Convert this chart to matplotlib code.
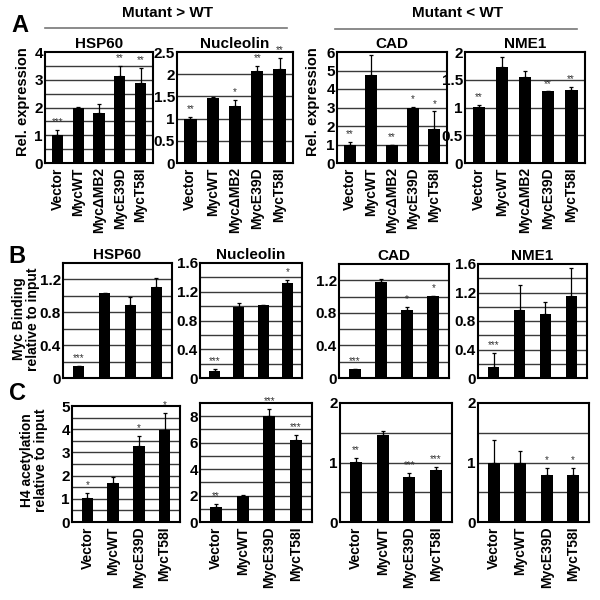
import matplotlib
matplotlib.use('Agg')
import matplotlib.pyplot as plt
import numpy as np

plt.rcParams['font.family'] = ['Liberation Sans', 'DejaVu Sans']
plt.rcParams['font.weight'] = 'bold'

# ---- data ----
cats_a = ['Vector', 'MycWT', 'MycΔMB2', 'MycE39D', 'MycT58I']
cats_bc = ['Vector', 'MycWT', 'MycE39D', 'MycT58I']

# A: relative expression
a_hsp60 = [1.02, 1.97, 1.8, 3.13, 2.87]
a_hsp60_err = [0.17, 0.06, 0.33, 0.36, 0.57]
a_hsp60_sig = ['***', '', '', '**', '**']
a_nucl = [1.0, 1.46, 1.29, 2.07, 2.11]
a_nucl_err = [0.04, 0.03, 0.14, 0.12, 0.26]
a_nucl_sig = ['**', '', '*', '**', '**']
a_cad = [0.98, 4.75, 0.96, 3.0, 1.84]
a_cad_err = [0.14, 1.1, 0.0, 0.05, 0.95]
a_cad_sig = ['**', '', '**', '*', '*']
a_nme1 = [1.01, 1.73, 1.55, 1.29, 1.32]
a_nme1_err = [0.04, 0.18, 0.11, 0.0, 0.05]
a_nme1_sig = ['**', '', '', '**', '**']

# B: Myc binding relative to input
b_hsp60 = [0.15, 1.03, 0.89, 1.11]
b_hsp60_err = [0.0, 0.01, 0.10, 0.11]
b_hsp60_sig = ['***', '', '', '']
b_nucl = [0.1, 0.99, 1.01, 1.32]
b_nucl_err = [0.03, 0.06, 0.01, 0.04]
b_nucl_sig = ['***', '', '', '*']
b_cad = [0.11, 1.18, 0.83, 1.01]
b_cad_err = [0.0, 0.03, 0.04, 0.0]
b_cad_sig = ['***', '', '*', '*']
b_nme1 = [0.155, 0.95, 0.9, 1.15]
b_nme1_err = [0.19, 0.36, 0.16, 0.39]
b_nme1_sig = ['***', '', '', '']

# C: H4 acetylation relative to input
c_hsp60 = [1.03, 1.68, 3.28, 3.97]
c_hsp60_err = [0.24, 0.28, 0.43, 0.71]
c_hsp60_sig = ['*', '', '*', '*']
c_nucl = [1.15, 1.97, 8.0, 6.2]
c_nucl_err = [0.18, 0.08, 0.54, 0.39]
c_nucl_sig = ['**', '', '***', '***']
c_cad = [1.01, 1.46, 0.75, 0.88]
c_cad_err = [0.07, 0.07, 0.08, 0.05]
c_cad_sig = ['**', '', '***', '***']
c_nme1 = [1.0, 1.0, 0.79, 0.79]
c_nme1_err = [0.37, 0.2, 0.11, 0.11]
c_nme1_sig = ['', '', '*', '*']

W = H = 600.0
fig = plt.figure(figsize=(6, 6), dpi=100)


def px_axes(x0, y0, x1, y1):
    # pixel box (top-left origin) -> figure axes
    return fig.add_axes([x0 / W, 1 - y1 / H, (x1 - x0) / W, (y1 - y0) / H])


def ftext(x, y, s, **kw):
    fig.text(x / W, 1 - y / H, s, **kw)


def bar_panel(box, vals, errs, sig, ymax, ticks, ticklabels, grid_step,
              cats=None, title=None, width=0.55):
    ax = px_axes(*box)
    x = np.arange(len(vals))
    for g in np.arange(grid_step, ymax, grid_step):
        ax.axhline(g, color='#3a3a3a', lw=1.0, zorder=0)
    ax.bar(x, vals, width=width, color='black', zorder=2)
    ax.errorbar(x, vals, yerr=[np.zeros(len(vals)), errs], fmt='none',
                ecolor='black', elinewidth=0.9, capsize=1.5, capthick=0.9, zorder=3)
    for xi, v, e, s in zip(x, vals, errs, sig):
        if s:
            ax.text(xi, v + e + 0.025 * ymax, s, ha='center', va='bottom',
                    fontsize=7, color='#333333', fontweight='normal')
    ax.set_xlim(-0.6, len(vals) - 0.4)
    ax.set_ylim(0, ymax)
    ax.set_yticks(ticks)
    ax.set_yticklabels(ticklabels, fontsize=11, fontweight='bold')
    ax.tick_params(axis='y', length=0, pad=1.5)
    ax.tick_params(axis='x', length=0, pad=3)
    if cats is not None:
        ax.set_xticks(x)
        ax.set_xticklabels(cats, rotation=90, fontsize=10, fontweight='bold')
    else:
        ax.set_xticks([])
    for sp in ax.spines.values():
        sp.set_linewidth(1.5)
    if title:
        ax.set_title(title, fontsize=11, fontweight='bold', pad=3)
    return ax


# ---- panel A ----
bar_panel((45, 52, 153, 163), a_hsp60, a_hsp60_err, a_hsp60_sig, 4,
          [0, 1, 2, 3, 4], ['0', '1', '2', '3', '4'], 0.5, cats_a, 'HSP60')
bar_panel((177, 52, 293, 163), a_nucl, a_nucl_err, a_nucl_sig, 2.5,
          [0, 0.5, 1, 1.5, 2, 2.5], ['0', '0.5', '1', '1.5', '2', '2.5'], 0.5,
          cats_a, 'Nucleolin')
bar_panel((337, 52, 447, 163), a_cad, a_cad_err, a_cad_sig, 6,
          [0, 1, 2, 3, 4, 5, 6], ['0', '1', '2', '3', '4', '5', '6'], 1,
          cats_a, 'CAD')
bar_panel((465, 52, 585, 163), a_nme1, a_nme1_err, a_nme1_sig, 2,
          [0, 0.5, 1, 1.5, 2], ['0', '0.5', '1', '1.5', '2'], 0.5, cats_a, 'NME1')

# ---- panel B ----
bar_panel((63, 263, 172, 378), b_hsp60, b_hsp60_err, b_hsp60_sig, 1.4,
          [0, 0.4, 0.8, 1.2], ['0', '0.4', '0.8', '1.2'], 0.2, None, 'HSP60', 0.45)
bar_panel((200, 263, 302, 378), b_nucl, b_nucl_err, b_nucl_sig, 1.6,
          [0, 0.4, 0.8, 1.2, 1.6], ['0', '0.4', '0.8', '1.2', '1.6'], 0.2,
          None, 'Nucleolin', 0.45)
bar_panel((339, 264, 449, 378), b_cad, b_cad_err, b_cad_sig, 1.4,
          [0, 0.4, 0.8, 1.2], ['0', '0.4', '0.8', '1.2'], 0.2, None, 'CAD', 0.45)
bar_panel((478, 264, 587, 378), b_nme1, b_nme1_err, b_nme1_sig, 1.6,
          [0, 0.4, 0.8, 1.2, 1.6], ['0', '0.4', '0.8', '1.2', '1.6'], 0.2,
          None, 'NME1', 0.45)

# ---- panel C ----
bar_panel((72, 406, 180, 522), c_hsp60, c_hsp60_err, c_hsp60_sig, 5,
          [0, 1, 2, 3, 4, 5], ['0', '1', '2', '3', '4', '5'], 0.5, cats_bc, None, 0.45)
bar_panel((200, 403, 312, 522), c_nucl, c_nucl_err, c_nucl_sig, 9,
          [0, 2, 4, 6, 8], ['0', '2', '4', '6', '8'], 1, cats_bc, None, 0.45)
bar_panel((340, 403, 452, 522), c_cad, c_cad_err, c_cad_sig, 2,
          [0, 1, 2], ['0', '1', '2'], 0.5, cats_bc, None, 0.45)
bar_panel((478, 403, 589, 522), c_nme1, c_nme1_err, c_nme1_sig, 2,
          [0, 1, 2], ['0', '1', '2'], 0.5, cats_bc, None, 0.45)

# ---- headers, letters, y labels ----
ftext(167, 13, 'Mutant > WT', ha='center', va='center', fontsize=11, fontweight='bold')
ftext(457, 13, 'Mutant < WT', ha='center', va='center', fontsize=11, fontweight='bold')
fig.add_artist(plt.Line2D([45 / W, 287 / W], [1 - 28 / H, 1 - 28 / H],
                          color='#777777', lw=1.2))
fig.add_artist(plt.Line2D([335 / W, 577 / W], [1 - 29 / H, 1 - 29 / H],
                          color='#777777', lw=1.2))

ftext(20, 26, 'A', ha='center', va='center', fontsize=17, fontweight='bold')
ftext(17, 256, 'B', ha='center', va='center', fontsize=17, fontweight='bold')
ftext(18, 394, 'C', ha='center', va='center', fontsize=17, fontweight='bold')

ftext(23, 102, 'Rel. expression', rotation=90, ha='center', va='center',
      fontsize=10.5, fontweight='bold')
ftext(313, 102, 'Rel. expression', rotation=90, ha='center', va='center',
      fontsize=10.5, fontweight='bold')
ftext(26, 319, 'Myc Binding\nrelative to input', rotation=90, ha='center',
      va='center', fontsize=10, fontweight='bold', linespacing=1.05)
ftext(34, 460, 'H4 acetylation\nrelative to input', rotation=90, ha='center',
      va='center', fontsize=10, fontweight='bold', linespacing=1.05)

fig.savefig('out.png', dpi=100)
